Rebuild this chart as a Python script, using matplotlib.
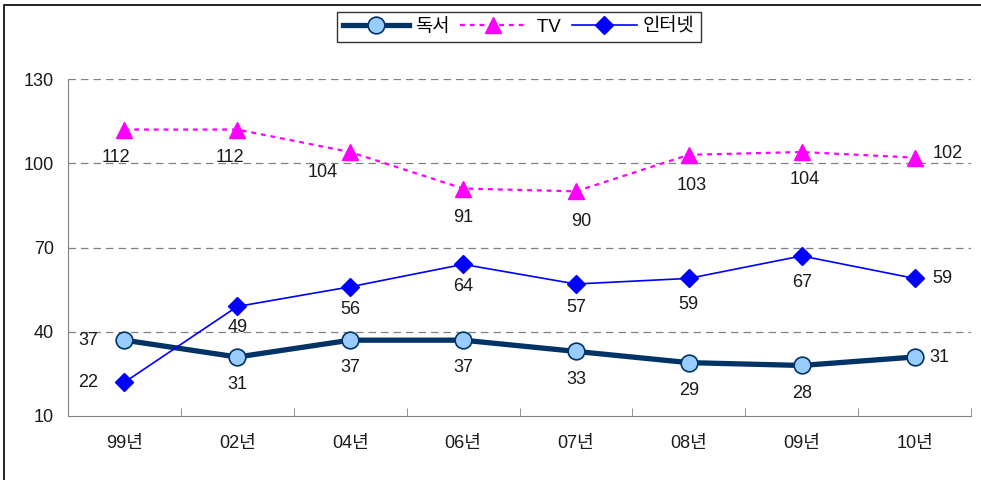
import matplotlib
matplotlib.use("Agg")
import matplotlib.pyplot as plt
from matplotlib.patches import Rectangle

plt.rcParams['font.family'] = ['Liberation Sans', 'Noto Sans CJK KR', 'DejaVu Sans']

# 데이터
years = ['99년', '02년', '04년', '06년', '07년', '08년', '09년', '10년']
reading = [37, 31, 37, 37, 33, 29, 28, 31]
tv = [112, 112, 104, 91, 90, 103, 104, 102]
internet = [22, 49, 56, 64, 57, 59, 67, 59]

# label offsets (points) for each point
reading_off = [(-26, 0), (0, -20), (0, -20), (0, -20), (0, -20), (0, -20), (0, -20), (18, 0)]
tv_off = [(-6, -20), (-5, -20), (-20, -15), (0, -21), (4, -22), (2, -22), (2, -20), (24, 3)]
internet_off = [(-26, 0), (0, -15), (0, -16), (0, -16), (0, -17), (0, -19), (0, -19), (20, 0)]

fig = plt.figure(figsize=(9.81, 4.8), dpi=100)
ax = fig.add_axes([68/981, 64/480, 903/981, 337/480])

x = list(range(len(years)))
ax.plot(x, reading, color='#003366', lw=3.8, marker='o', ms=12,
        mfc='#99CCFF', mec='#003366', mew=1.2, label='독서', zorder=3)
ax.plot(x, tv, color='#FF00FF', lw=1.6, ls=(0, (2.2, 2.2)), marker='^', ms=11,
        mfc='#FF00FF', mec='#FF00FF', label=' TV', zorder=3)
ax.plot(x, internet, color='#0000FF', lw=1.2, marker='D', ms=9,
        mfc='#0000FF', mec='#0000FF', label='인터넷', zorder=3)

def labels(vals, offs):
    for i, (v, o) in enumerate(zip(vals, offs)):
        ax.annotate(str(v), (i, v), xytext=o, textcoords='offset points',
                    ha='center', va='center', fontsize=13, color='#1a1a1a')

labels(reading, reading_off)
labels(tv, tv_off)
labels(internet, internet_off)

ax.set_xlim(-0.5, len(years) - 0.5)
ax.set_ylim(10, 130)
ax.set_yticks([10, 40, 70, 100, 130])
ax.set_xticks(x)
ax.set_xticklabels(years)
ax.set_xticks([i + 0.5 for i in range(-1, len(years))], minor=True)
ax.tick_params(axis='x', which='major', length=0, pad=14, labelsize=13, labelcolor='#1a1a1a')
ax.tick_params(axis='x', which='minor', direction='in', length=6, color='#808080')
ax.tick_params(axis='y', length=0, pad=10, labelsize=13, labelcolor='#1a1a1a')
for s in ['top', 'right']:
    ax.spines[s].set_visible(False)
for s in ['left', 'bottom']:
    ax.spines[s].set_color('#808080')
ax.yaxis.grid(True, color='#808080', ls=(0, (6, 4)), lw=0.9)
ax.set_axisbelow(True)
for gl in ax.yaxis.get_gridlines()[:1]:
    gl.set_visible(False)

leg = fig.legend(loc='center', bbox_to_anchor=(519/981, 1 - 27/480), ncol=3,
                 frameon=True, fancybox=False, edgecolor='black', fontsize=13.5,
                 handlelength=3.5, columnspacing=0.6, handletextpad=0.3,
                 borderpad=0.35, borderaxespad=0)
leg.get_frame().set_linewidth(1.0)

# outer frame
fig.patches.append(Rectangle((4/981, -0.1), 1.2, 1 - 5/480 + 0.1, transform=fig.transFigure,
                             fill=False, edgecolor='black', lw=1.2))

fig.savefig('out.png', dpi=100)
